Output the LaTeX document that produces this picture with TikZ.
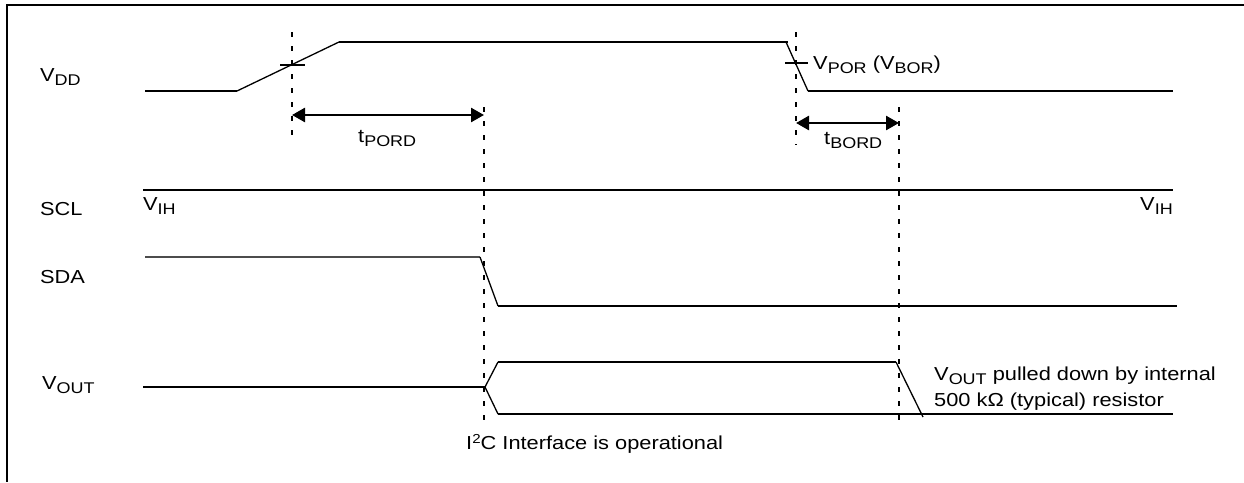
\documentclass[tikz,border=0pt]{standalone}
\usepackage{fontspec}
\setmainfont{Liberation Sans}[FakeStretch=1.16]
\usetikzlibrary{arrows.meta}

\newcommand{\lsub}[1]{\raisebox{-4.5pt}{\fontsize{15.5}{16}\selectfont #1}}
\newcommand{\hsup}[1]{\raisebox{6pt}{\fontsize{13}{14}\selectfont #1}}

\tikzset{
  wave/.style={line width=2.6pt},
  slope/.style={line width=1.3pt},
  tick/.style={line width=2pt},
  guide/.style={line width=2pt, dash pattern=on 5pt off 9pt},
  span/.style={line width=2.6pt, {Triangle[length=13pt,width=14pt]}-{Triangle[length=13pt,width=14pt]}},
  lbl/.style={anchor=base west, inner sep=0pt, font=\fontsize{18.8}{25}\selectfont}
}

\begin{document}
\begin{tikzpicture}[x=1pt, y=-1pt]
  \useasboundingbox (0,0) rectangle (1244,482);
  \draw[line width=2.8pt] (1244,5) -- (7,5) -- (7,482);

  % VDD
  \node[lbl] (vdd) at (40,81) {V\lsub{DD}};
  \draw[wave] (145,91) -- (237,91);
  \draw[slope] (237,91) -- (339,42);
  \draw[wave] (339,42) -- (788,42);
  \draw[slope] (786,42) -- (808,91);
  \draw[wave] (808,91) -- (1173,91);
  \draw[tick] (280,64.5) -- (305,64.5);
  \draw[tick] (785,63) -- (808,63);
  \node[lbl] (vpor) at (813,69) {V\lsub{POR} (V\lsub{BOR})};

  % guides
  \draw[guide] (292,32) -- (292,143);
  \draw[guide] (484,107) -- (484,428);
  \draw[guide] (796,32) -- (796,145);
  \draw[guide] (899,107) -- (899,424);

  \coordinate (pordA) at (292,115);
  \coordinate (pordB) at (484,115);
  \coordinate (bordA) at (796,123);
  \coordinate (bordB) at (899,123);
  \draw[span] (pordA) -- (pordB);
  \draw[span] (bordA) -- (bordB);
  \node[lbl] (tpord) at (358,142) {t\lsub{PORD}};
  \node[lbl] (tbord) at (824,144) {t\lsub{BORD}};

  % SCL
  \node[lbl] (scl) at (40,215) {SCL};
  \draw[wave] (143,190) -- (1173,190);
  \node[lbl] (vihl) at (143,210) {V\lsub{IH}};
  \node[lbl] (vihr) at (1140,210) {V\lsub{IH}};

  % SDA
  \node[lbl] (sda) at (40,283) {SDA};
  \draw[wave, black!70] (145,257) -- (480,257);
  \draw[slope] (480,257) -- (498,306);
  \draw[wave] (498,306) -- (1177,306);

  % VOUT
  \node[lbl] (vout) at (42,389) {V\lsub{OUT}};
  \draw[wave] (143,387) -- (485,387);
  \draw[slope] (485,387) -- (498,362);
  \draw[slope] (485,387) -- (498,414);
  \draw[wave] (498,362) -- (896,362);
  \draw[slope] (896,362) -- (923,417);
  \draw[wave] (498,414) -- (1173,414);
  \node[lbl] (pull) at (934,380) {V\lsub{OUT} pulled down by internal};
  \node[lbl] (res) at (934,406) {500 kΩ (typical) resistor};
  \node[lbl] (i2c) at (466,449) {I\hsup{2}C Interface is operational};
\end{tikzpicture}
\end{document}
